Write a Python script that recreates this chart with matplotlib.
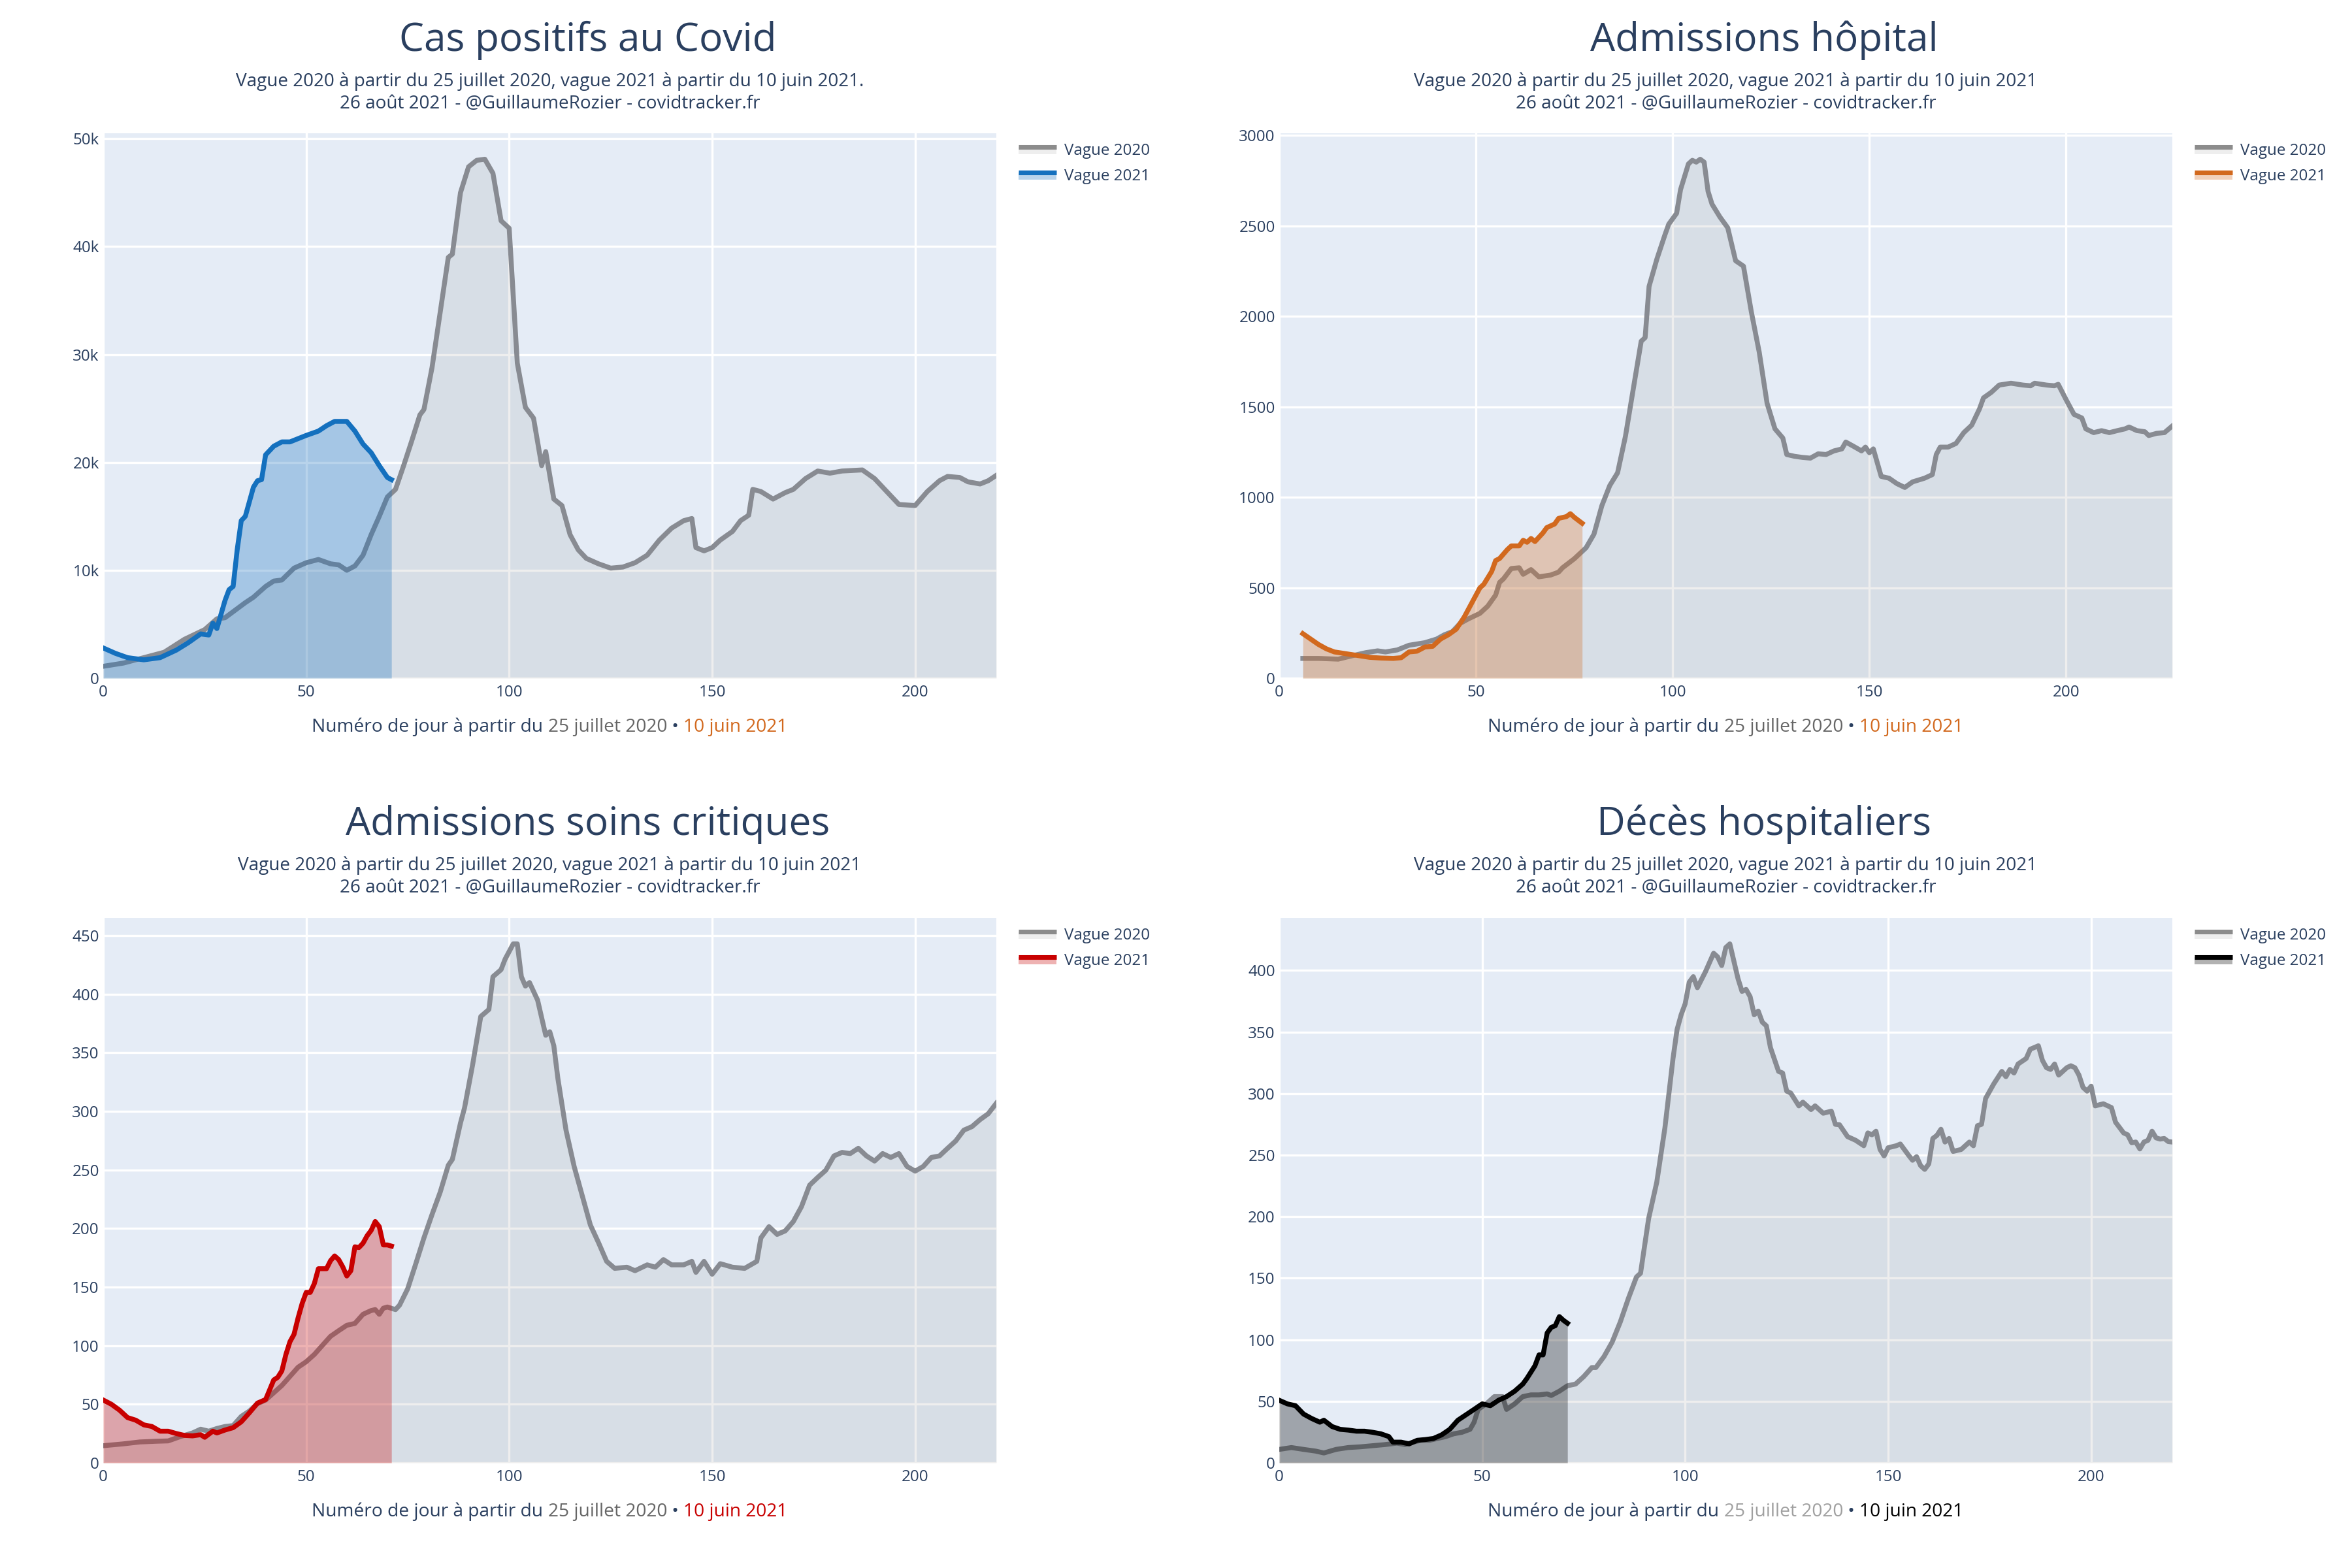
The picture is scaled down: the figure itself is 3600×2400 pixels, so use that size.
import matplotlib
matplotlib.use("Agg")
import matplotlib.pyplot as plt
from matplotlib.ticker import FuncFormatter, MultipleLocator
from matplotlib.legend_handler import HandlerBase
from matplotlib.lines import Line2D
from matplotlib.patches import Rectangle

plt.rcParams['font.family'] = ['Open Sans', 'DejaVu Sans']

# ---------------- DATA ----------------
titles = ["Cas positifs au Covid", "Admissions hôpital",
          "Admissions soins critiques", "Décès hospitaliers"]
subtitles = [
    "Vague 2020 à partir du 25 juillet 2020, vague 2021 à partir du 10 juin 2021.\n26 août 2021 - @GuillaumeRozier - covidtracker.fr",
    "Vague 2020 à partir du 25 juillet 2020, vague 2021 à partir du 10 juin 2021\n26 août 2021 - @GuillaumeRozier - covidtracker.fr",
    "Vague 2020 à partir du 25 juillet 2020, vague 2021 à partir du 10 juin 2021\n26 août 2021 - @GuillaumeRozier - covidtracker.fr",
    "Vague 2020 à partir du 25 juillet 2020, vague 2021 à partir du 10 juin 2021\n26 août 2021 - @GuillaumeRozier - covidtracker.fr",
]
legend_labels = ["Vague 2020", "Vague 2021"]
xlabel_parts = ["Numéro de jour à partir du ", "25 juillet 2020", " • ", "10 juin 2021"]

# Cas positifs
cas_x20 = [0, 5, 10, 15, 20, 25, 28, 30, 35, 37, 40, 42, 44, 47, 50, 53, 56, 58, 60, 62, 64, 66, 68, 70,
           72, 74, 76, 78, 79, 81, 83, 85, 86, 88, 90, 92, 94, 96, 98, 100, 102, 104, 106, 108, 109,
           111, 113, 115, 117, 119, 122, 125, 128, 131, 134, 137, 140, 143, 145, 146, 148, 150, 152,
           155, 157, 159, 160, 162, 165, 168, 170, 173, 176, 179, 182, 187, 190, 193, 196, 200, 203,
           206, 208, 211, 213, 216, 218, 220]
cas_y20 = [1100, 1400, 1900, 2400, 3600, 4500, 5500, 5600, 7000, 7500, 8500, 9000, 9100, 10200, 10700,
           11000, 10600, 10500, 10000, 10400, 11400, 13300, 15000, 16800, 17500, 19700, 22000, 24400,
           24900, 28800, 33900, 39000, 39300, 45000, 47400, 48000, 48100, 46800, 42400, 41700, 29200,
           25100, 24100, 19700, 21000, 16600, 16000, 13300, 11900, 11100, 10600, 10200, 10300, 10700,
           11400, 12800, 13900, 14600, 14800, 12100, 11800, 12100, 12800, 13600, 14600, 15100, 17500,
           17300, 16600, 17200, 17500, 18500, 19200, 19000, 19200, 19300, 18500, 17300, 16100, 16000,
           17300, 18300, 18700, 18600, 18200, 18000, 18300, 18800]
cas_x21 = [0, 3, 6, 10, 14, 18, 21, 24, 26, 27, 28, 30, 31, 32, 33, 34, 35, 37, 38, 39, 40, 42, 44, 46,
           48, 50, 53, 55, 57, 60, 62, 64, 66, 68, 70, 71]
cas_y21 = [2800, 2300, 1900, 1700, 1900, 2600, 3300, 4100, 4000, 5100, 4600, 7200, 8200, 8500, 11900,
           14600, 15000, 17700, 18300, 18400, 20700, 21500, 21900, 21900, 22200, 22500, 22900, 23400,
           23800, 23800, 22900, 21700, 20900, 19700, 18600, 18400]

# Admissions hôpital
hosp_x20 = [6, 10, 15, 18, 22, 25, 27, 30, 33, 37, 40, 42, 44, 46, 48, 51, 53, 55, 56, 57, 59, 61, 62,
            64, 66, 69, 71, 72, 75, 78, 80, 82, 84, 86, 88, 90, 92, 93, 94, 96, 98, 99, 101, 102, 104,
            105, 106, 107, 108, 109, 110, 112, 114, 116, 118, 120, 122, 124, 126, 128, 129, 131, 133,
            135, 137, 139, 141, 143, 144, 146, 148, 149, 150, 151, 153, 155, 157, 159, 161, 164, 166,
            167, 168, 170, 172, 174, 176, 178, 179, 181, 183, 186, 189, 191, 192, 195, 197, 198, 200,
            202, 204, 205, 207, 209, 211, 213, 215, 216, 218, 220, 221, 223, 225, 227]
hosp_y20 = [109, 109, 105, 121, 141, 151, 145, 156, 182, 196, 216, 240, 257, 303, 327, 358, 398, 459,
            529, 549, 606, 610, 574, 600, 560, 570, 586, 610, 660, 721, 796, 953, 1064, 1135, 1337,
            1600, 1862, 1882, 2165, 2317, 2448, 2509, 2569, 2700, 2842, 2862, 2852, 2868, 2852, 2690,
            2620, 2549, 2489, 2307, 2277, 2024, 1802, 1519, 1378, 1327, 1236, 1226, 1220, 1216, 1240,
            1236, 1256, 1267, 1305, 1281, 1256, 1277, 1246, 1267, 1115, 1105, 1075, 1054, 1085, 1105,
            1125, 1236, 1277, 1277, 1297, 1357, 1398, 1489, 1549, 1580, 1620, 1630, 1620, 1616, 1630,
            1620, 1616, 1624, 1539, 1458, 1438, 1378, 1357, 1368, 1357, 1368, 1378, 1388, 1368, 1362,
            1341, 1353, 1357, 1394]
hosp_x21 = [6, 8, 10, 12, 14, 17, 20, 23, 26, 29, 31, 33, 35, 37, 39, 41, 43, 45, 47, 49, 51, 52, 54,
            55, 56, 58, 59, 61, 62, 63, 64, 65, 67, 68, 70, 71, 73, 74, 75, 77]
hosp_y21 = [246, 216, 186, 162, 145, 135, 125, 115, 111, 109, 113, 145, 149, 172, 176, 216, 240, 271,
            337, 418, 499, 519, 590, 650, 661, 711, 731, 731, 762, 751, 772, 755, 802, 832, 852, 883,
            893, 909, 889, 856]

# Admissions soins critiques
rea_x20 = [0, 5, 9, 13, 16, 19, 22, 24, 26, 28, 30, 32, 34, 36, 38, 40, 42, 44, 46, 48, 50, 52, 54, 56,
           58, 60, 62, 64, 66, 67, 68, 69, 70, 72, 73, 75, 77, 79, 81, 83, 85, 86, 88, 89, 91, 93, 95,
           96, 98, 99, 101, 102, 103, 104, 105, 107, 109, 110, 111, 112, 114, 116, 118, 120, 122, 124,
           126, 129, 131, 134, 136, 138, 140, 143, 145, 146, 148, 150, 152, 155, 158, 160, 161, 162,
           164, 166, 168, 170, 172, 174, 176, 178, 180, 182, 184, 186, 188, 190, 192, 194, 196, 198,
           200, 202, 204, 206, 208, 210, 212, 214, 216, 218, 220]
rea_y20 = [14.6, 16.2, 17.8, 18.4, 18.7, 22.4, 25.5, 28.7, 27, 29.3, 31, 31.8, 39.6, 44.2, 50.5, 53.6,
           59.8, 66, 73.8, 81.6, 86.3, 92.5, 100.3, 108, 112.8, 117.4, 119, 126.8, 130, 130.8, 126.8,
           132, 133, 130.8, 134.6, 148.6, 170, 192, 212, 231, 254, 259, 290, 303, 340, 381, 387, 415,
           421, 430, 443, 443, 415, 407, 410, 395, 365, 368, 356, 328, 284, 253, 228, 203, 188, 172,
           166, 167, 164, 169, 167, 173.5, 169, 169, 172, 162.6, 172, 161, 170, 167, 166, 170, 172,
           192, 201.6, 195, 198, 206, 218.7, 237, 243.6, 249.8, 262, 265, 264, 268.5, 262, 257.6, 264,
           260.7, 264, 253, 249, 253, 260.7, 262, 268.5, 274.8, 284, 287, 293, 298, 307]
rea_x21 = [0, 2, 4, 6, 8, 10, 12, 14, 16, 18, 20, 22, 24, 25, 27, 28, 30, 32, 34, 36, 38, 40, 42, 43,
           44, 45, 46, 47, 48, 49, 50, 51, 52, 53, 55, 56, 57, 58, 59, 60, 61, 62, 63, 64, 65, 66, 67,
           68, 69, 70, 71]
rea_y21 = [53.6, 50, 45, 38.6, 36.4, 32.4, 31, 27, 27, 25, 23.4, 23, 24, 21.8, 27, 25.5, 28, 30, 35,
           42.7, 51, 54, 70.7, 73, 78.5, 92.5, 103.4, 109.7, 123.7, 136, 145.5, 145.5, 153, 165.7,
           165.7, 172.6, 176.6, 173.5, 167.3, 159.5, 164, 184.4, 183.8, 187.5, 193.8, 198.4, 206,
           201.6, 186, 186, 185]

# Décès hospitaliers
dc_x20 = [0, 3, 6, 9, 11, 14, 17, 20, 23, 26, 29, 31, 33, 35, 37, 39, 41, 43, 45, 47, 48, 49, 51, 53,
          55, 56, 58, 60, 62, 64, 66, 67, 69, 71, 73, 75, 77, 78, 80, 82, 84, 86, 88, 89, 91, 93, 95,
          97, 98, 99, 100, 101, 102, 103, 105, 107, 108, 109, 110, 111, 113, 114, 115, 116, 117, 118,
          119, 120, 121, 123, 124, 125, 126, 128, 129, 131, 132, 134, 136, 137, 138, 140, 142, 144,
          145, 146, 147, 148, 149, 150, 152, 153, 155, 156, 157, 158, 159, 160, 161, 162, 163, 164,
          165, 166, 168, 170, 171, 172, 173, 174, 176, 178, 179, 180, 181, 182, 184, 185, 187, 188,
          189, 190, 191, 192, 194, 195, 196, 197, 198, 199, 200, 201, 203, 205, 206, 208, 209, 210,
          211, 212, 213, 214, 215, 216, 217, 218, 219, 220]
dc_y20 = [10.9, 12.4, 10.9, 9.5, 8, 10.9, 12.4, 13, 13.9, 14.8, 16, 14.8, 16.8, 18.3, 18.3, 19.8, 21.3,
          23.6, 24.8, 27.2, 33, 43.4, 47.9, 53.8, 53.8, 43.4, 47.9, 53.8, 55.2, 55.2, 56, 54.7, 58.2,
          62.6, 64, 70, 77.4, 77.4, 86.3, 98, 114.3, 133.5, 151, 154, 198.5, 228, 272, 328.5, 352,
          364, 373, 390.5, 395, 386, 399, 414, 411, 404, 418.6, 421.6, 393.5, 383, 384.6, 378.7, 364,
          367, 358, 355, 337.4, 318, 316.7, 302, 300.4, 290, 293, 287, 290, 284, 285.7, 275, 274.7,
          265, 262, 257.6, 268, 266.5, 269.4, 254.6, 249.3, 256, 257.6, 259, 250, 245.8, 248.7, 241.4,
          238.4, 242.8, 263.5, 266, 271, 260.6, 263.5, 253, 254.6, 260.6, 257.6, 273.9, 275, 296,
          307.8, 318, 313.7, 319.6, 316.7, 324, 328.5, 336, 338.8, 327, 321, 319.6, 324, 315, 321,
          322.6, 321, 315, 305, 302, 306, 290, 291.7, 288.6, 276.8, 268, 266.5, 260, 260.6, 255,
          260.6, 262, 269.4, 264, 263, 263.5, 261, 260.6]
dc_x21 = [0, 2, 4, 6, 8, 10, 11, 13, 15, 17, 19, 21, 23, 25, 27, 28, 30, 32, 34, 36, 38, 40, 42, 44,
          46, 48, 50, 52, 54, 56, 58, 60, 61, 63, 64, 65, 66, 67, 68, 69, 70, 71]
dc_y21 = [50.8, 47.9, 46.4, 39.6, 36, 33, 34.6, 29.5, 27.2, 26.6, 25.7, 25.7, 24.8, 23.6, 21.3, 16.8,
          16.8, 15.4, 18.3, 18.9, 19.8, 22.7, 27.2, 34.6, 39, 43.4, 47.9, 46.4, 50.8, 53.8, 58.2, 64,
          68.5, 78.9, 87.7, 87.7, 105.5, 110, 111.4, 118.8, 115.8, 113.4]

# ---------------- STYLE ----------------
TXT = '#2a3f5f'
BG = '#E5ECF6'
GREY_LINE = '#888b92'
GREY_FILL = (0.5, 0.5, 0.5, 0.13)
colors21 = ['#1470be', '#d2691e', '#c80000', '#000000']
date20_colors = ['#666666', '#666666', '#666666', '#a0a0a0']
date21_colors = ['#d2691e', '#d2691e', '#c80000', '#000000']

panels = [
    (cas_x20, cas_y20, cas_x21, cas_y21, 220, 10000),
    (hosp_x20, hosp_y20, hosp_x21, hosp_y21, 227, 500),
    (rea_x20, rea_y20, rea_x21, rea_y21, 220, 50),
    (dc_x20, dc_y20, dc_x21, dc_y21, 220, 50),
]

W, H = 3600, 2400
fig = plt.figure(figsize=(12, 8), dpi=300)
fig.patch.set_facecolor('white')

ax_px = [(158, 204), (1958, 204), (158, 1405), (1958, 1405)]
AW, AH = 1367, 834


class FillLine:
    def __init__(self, line_color, fill_color):
        self.line_color = line_color
        self.fill_color = fill_color


class FillLineHandler(HandlerBase):
    def create_artists(self, legend, orig, xdescent, ydescent, width, height, fontsize, trans):
        x0 = -xdescent
        y0 = -ydescent
        yl = y0 + height * 0.72
        rect = Rectangle((x0, y0 + height * 0.05), width, yl - (y0 + height * 0.05),
                         facecolor=orig.fill_color, edgecolor='none', transform=trans)
        line = Line2D([x0, x0 + width], [yl, yl], color=orig.line_color, lw=1.7,
                      solid_capstyle='butt', transform=trans)
        return [rect, line]


def fmt_k(v, pos):
    if v == 0:
        return "0"
    return f"{int(round(v / 1000))}k"


for i, (x20, y20, x21, y21, xmax, ystep) in enumerate(panels):
    px, py = ax_px[i]
    ax = fig.add_axes([px / W, 1 - (py + AH) / H, AW / W, AH / H])
    ax.set_facecolor(BG)
    for s in ax.spines.values():
        s.set_visible(False)
    ax.grid(True, color='white', lw=0.8, zorder=0)
    ax.set_axisbelow(True)

    ax.fill_between(x20, y20, 0, color=GREY_FILL, lw=0, zorder=1)
    ax.plot(x20, y20, color=GREY_LINE, lw=1.8, zorder=2, solid_joinstyle='round')
    ax.fill_between(x21, y21, 0, color=colors21[i], alpha=0.3, lw=0, zorder=3)
    ax.plot(x21, y21, color=colors21[i], lw=1.8, zorder=4, solid_joinstyle='round')

    ax.set_xlim(0, xmax)
    ax.set_ylim(0, max(max(y20), max(y21)) * 1.05)
    ax.xaxis.set_major_locator(MultipleLocator(50))
    ax.yaxis.set_major_locator(MultipleLocator(ystep))
    if i == 0:
        ax.yaxis.set_major_formatter(FuncFormatter(fmt_k))
    ax.tick_params(axis='both', length=0, labelsize=5.8, labelcolor=TXT)
    ax.tick_params(axis='y', pad=1.5)
    ax.tick_params(axis='x', pad=2.5)

    h20 = FillLine('#8c8c8c', '#eeeeee')
    fc = matplotlib.colors.to_rgba(colors21[i], 0.3)
    h21 = FillLine(colors21[i], fc)
    leg = ax.legend([h20, h21], legend_labels, handler_map={FillLine: FillLineHandler()},
                    loc='upper left', bbox_to_anchor=(1.025, 0.982), frameon=False,
                    fontsize=5.8, handlelength=2.4, handletextpad=0.5, labelspacing=0.62,
                    borderaxespad=0, borderpad=0)
    for t in leg.get_texts():
        t.set_color(TXT)

    # Titles
    col_c = 0.25 if i % 2 == 0 else 0.75
    ty = 62 if i < 2 else 1262
    fig.text(col_c, 1 - ty / H, titles[i], ha='center', va='center', fontsize=14.5, color=TXT)
    axc = (px + AW / 2) / W
    sy = 142 if i < 2 else 1342
    fig.text(axc, 1 - sy / H, subtitles[i], ha='center', va='center', fontsize=6.7,
             color=TXT, linespacing=1.3)

# multi-coloured x labels
fig.canvas.draw()
renderer = fig.canvas.get_renderer()
for i in range(4):
    px, py = ax_px[i]
    cx = px + AW / 2
    ly = 1113 if i < 2 else 2314
    cols = [TXT, date20_colors[i], TXT, date21_colors[i]]
    texts = []
    for part, c in zip(xlabel_parts, cols):
        t = fig.text(0, 1 - ly / H, part, ha='left', va='center', fontsize=6.75, color=c)
        texts.append(t)
    widths = [t.get_window_extent(renderer).width for t in texts]
    total = sum(widths)
    x = cx - total / 2
    for t, w in zip(texts, widths):
        t.set_x(x / W)
        x += w

fig.savefig("out.png", dpi=300, facecolor='white')
